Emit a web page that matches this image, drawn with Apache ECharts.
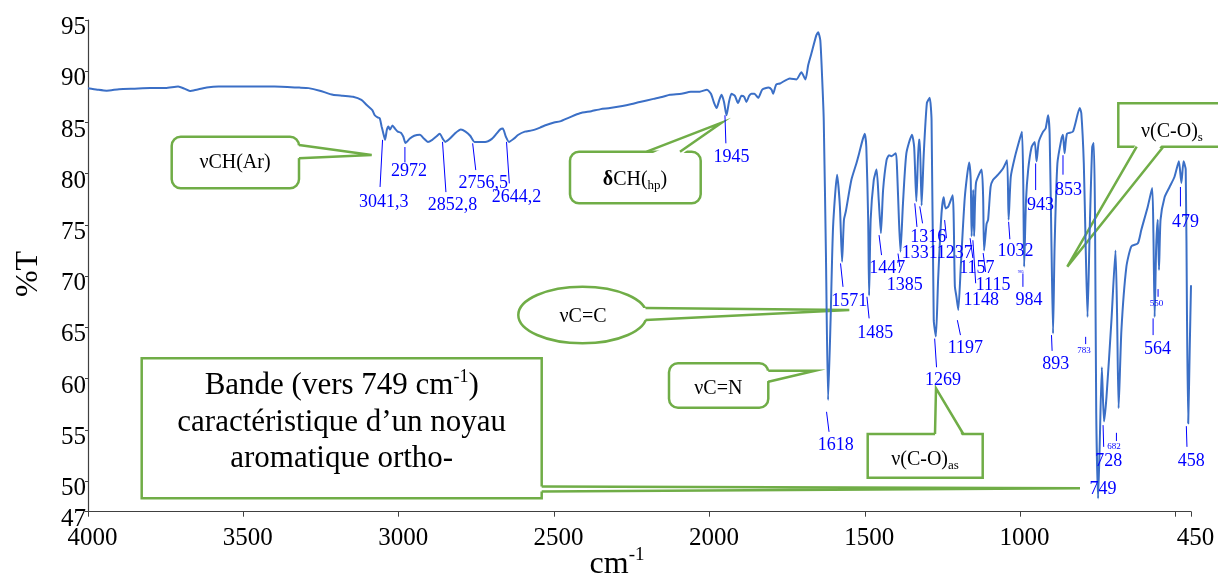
<!DOCTYPE html>
<html><head><meta charset="utf-8">
<script src="https://cdn.jsdelivr.net/npm/echarts@6/dist/echarts.min.js"></script>
<style>html,body{margin:0;padding:0;background:#fff}#c{width:1218px;height:574px}</style>
</head><body><div id="c"></div>
<script>
// ---- spectrum data (cm-1, %T) ----
const wavenumbers = [
4000,3970,3940,3900,3850,3800,3750,3710,3690,3672,3650,3618,3580,3500,3400,3320,3290,3254,3212,3180,
3147,3120,3103,3085,3077,3068,3061,3055,3050,3044,3038,3033,3028,3020,3012,3003,2993,2985,2978,2965,
2950,2932,2918,2906,2892,2880,2868,2858,2850,2836,2820,2800,2785,2770,2756,2740,2722,2700,2685,2674,
2665,2655,2645,2630,2615,2594,2575,2562,2545,2530,2500,2481,2450,2417,2380,2350,2320,2280,2250,2224,
2180,2150,2127,2090,2060,2031,2008,1995,1985,1977,1968,1961,1953,1945,1937,1929,1918,1908,1897,1888,
1881,1872,1865,1855,1843,1830,1810,1800,1795,1785,1773,1741,1720,1704,1691,1682,1672,1656,1650,1643,
1636,1632,1625,1618,1610,1602,1589,1580,1573,1567,1561,1543,1527,1518,1507,1500,1495,1489,1486,1481,
1471,1462,1455,1448,1441,1430,1422,1414,1400,1396,1390,1385,1377,1366,1348,1341,1334,1326,1323,1317,
1310,1300,1291,1285,1278,1271,1264,1253,1246,1240,1231,1217,1210,1205,1199,1191,1178,1164,1159,1156,
1151,1148,1142,1124,1119,1116,1108,1103,1095,1087,1071,1055,1042,1037,1030,1017,1001,994,990,987,
981,974,963,953,947,940,926,918,910,905,899,894,889,880,867,862,857,849,830,808,
803,795,789,783,776,768,763,759,755,749,744,737,730,722,706,693,688,683,674,658,
642,621,610,589,575,571,567,562,557,553,548,535,519,503,489,481,474,467,463,459,
454,450];
const transmittance = [
88.33,88.2,88.1,88.25,88.3,88.35,88.35,88.5,88.3,88.07,88.2,88.4,88.5,88.5,88.5,88.4,88.35,88.1,87.7,87.6,
87.5,87.2,86.7,86.2,85.7,85.5,85.4,84.6,84.0,83.3,84.3,84.6,84.3,84.7,84.4,84.1,84.0,83.6,83.0,83.4,
83.7,83.8,83.4,83.1,83.3,83.6,83.9,83.4,83.1,83.4,83.9,84.3,84.1,83.7,83.1,83.1,83.1,83.4,83.9,84.3,
84.4,83.6,83.1,83.4,83.8,84.1,84.2,84.3,84.5,84.7,85.0,85.1,85.5,85.9,86.1,86.3,86.4,86.6,86.8,87.0,
87.3,87.5,87.7,87.8,88.0,88.0,88.2,87.8,86.9,86.4,87.2,87.7,87.0,85.7,87.0,87.8,87.6,86.9,87.6,87.5,
87.0,87.6,87.8,87.8,87.4,88.2,88.4,88.2,87.8,88.7,88.8,89.3,89.2,89.9,89.2,90.6,91.7,93.5,93.8,93.0,
88.5,85.2,72.2,57.9,65.7,74.8,79.9,76.8,71.4,75.5,76.3,79.4,81.0,82.0,83.3,83.9,82.6,75.5,68.1,75.5,
79.4,80.4,77.4,74.2,78.4,81.3,81.8,81.7,82.0,80.4,75.5,72.4,77.1,82.0,83.8,82.6,77.3,83.3,83.3,76.9,
82.0,86.9,87.4,85.2,65.7,64.1,69.6,76.1,77.7,76.6,76.8,77.9,69.0,68.0,66.7,70.9,77.7,81.1,79.4,73.9,
78.4,73.9,79.1,80.4,77.7,72.5,75.1,75.5,78.7,79.4,79.9,80.5,81.3,75.5,79.7,81.6,83.4,84.1,79.4,70.9,
77.4,80.4,82.6,83.1,81.2,83.1,84.1,84.4,85.7,83.9,72.9,64.4,72.9,81.0,83.4,83.8,82.0,83.9,84.1,86.4,
85.9,81.0,72.9,66.0,74.5,82.6,83.0,76.1,56.6,48.3,53.3,61.1,55.8,58.2,65.7,72.5,66.4,57.1,64.7,70.9,
72.9,73.2,74.5,76.8,78.6,74.2,66.0,72.9,75.5,70.6,75.5,77.7,78.7,79.7,81.2,79.1,81.2,80.4,66.4,55.6,
63.1,69.1];

// ---- axis ticks ----
const xTickValues = [4000,3500,3000,2500,2000,1500,1000,500,450];
const xLabelValues = [4000,3500,3000,2500,2000,1500,1000,450];
const yTickValues = [47,50,55,60,65,70,75,80,85,90,95];

// ---- peak annotations (data coordinates) ----
const peakNames   = ['3041,3','2972','2852,8','2756,5','2644,2','1945','1618','1571','1485','1447','1385','1331','1316','1237','1269','1197','1157','1148','1115','1032','984','943','893','853','783','749','728','682','564','550','479','458','985'];
const peakTextWn  = [3048,2967,2827,2728,2621,1929,1593,1550,1466,1428,1371,1323,1296,1210,1248,1176,1139,1125,1087,1015,971,934,885.5,844,794,733,715,698,558,561,468,449,998];
const peakTextT   = [77.2,80.2,76.9,79.05,77.7,81.6,53.5,67.5,64.4,70.75,69.1,72.2,73.8,72.2,59.8,63.0,70.75,67.66,69.1,72.4,67.6,76.9,61.4,78.4,62.7,49.2,51.9,53.33,62.87,67.3,75.3,51.9,70.4];
const peakLineFrom = [[3052,83.3],[2980,82.6],[2859,83.1],[2762,82.96],[2653,83.1],[1950,85.7],[1623,56.75],[1578,71.24],[1493,67.98],[1454,74.0],[1393,72.2],[1339,77.1],[1323,76.8],[1243,75.47],[1275,63.9],[1202,65.7],[1161,73.7],[1152,73.5],[1119,72.25],[1037,75.3],[991,70.26],[950,81.0],[899,64.24],[862,81.8],[789,64.07],null,[733,55.45],[690,54.7],[572,65.87],[556,68.73],[484,78.7],[465,55.35],null];
const peakLineTo   = [[3060,78.7],[2980,81.1],[2848,78.2],[2752,80.35],[2644,79.05],[1947,82.96],[1615,54.8],[1570,68.95],[1486,65.87],[1446,72.05],[1387,70.9],[1332,74.8],[1314,75.15],[1237,73.7],[1269,61.1],[1192,64.24],[1152,71.76],[1143,69.3],[1111,70.4],[1033,73.6],[991,68.95],[950,78.4],[897,62.7],[862,79.9],[789,63.36],null,[731,53.33],[690,53.9],[572,64.24],[556,67.98],[484,76.8],[463,53.33],null];
const smallPeaks = ['783','682','550'];
const tinyPeaks = ['985'];

const SERIF = '"Liberation Serif","Times New Roman",serif';
const GREEN = '#70ad47';
const BLUE = '#0000ff';

const chart = echarts.init(document.getElementById('c'));
const seriesData = wavenumbers.map((w, i) => [w, transmittance[i]]);

chart.setOption({
  animation: false,
  backgroundColor: '#fff',
  grid: { left: 88, right: 27, top: 20, bottom: 62.3, containLabel: false },
  xAxis: {
    type: 'value', inverse: true, min: 450, max: 4000,
    axisLine: { show: true, lineStyle: { color: '#404040', width: 1.2 } },
    axisTick: { show: true, length: 5, inside: false, lineStyle: { color: '#404040' }, customValues: xTickValues },
    axisLabel: { customValues: xLabelValues, formatter: v => String(v), fontFamily: SERIF, fontSize: 25, color: '#000', margin: 14, padding: [0,0,0,9] },
    splitLine: { show: false }
  },
  yAxis: {
    type: 'value', min: 47, max: 95,
    axisLine: { show: true, lineStyle: { color: '#404040', width: 1.2 } },
    axisTick: { show: true, length: 3, lineStyle: { color: '#404040' }, customValues: yTickValues },
    axisLabel: { customValues: yTickValues, formatter: v => String(v), fontFamily: SERIF, fontSize: 25, color: '#000', margin: 2, verticalAlign: 'top', lineHeight: 15 },
    splitLine: { show: false }
  },
  series: [{
    type: 'line', data: seriesData, showSymbol: false, smooth: 0.2, z: 10,
    lineStyle: { color: '#3b6fc6', width: 2 }
  }]
});

function P(w, t) { return chart.convertToPixel({ xAxisIndex: 0, yAxisIndex: 0 }, [w, t]); }

const els = [];
function txt(x, y, text, size, extra) {
  els.push(Object.assign({
    type: 'text', z: 20,
    style: { x: x, y: y, text: text, fontSize: size, fontFamily: SERIF, fill: '#000',
             align: 'center', verticalAlign: 'middle', textAlign: 'center', textVerticalAlign: 'middle' }
  }, extra || {}));
}
function richTxt(x, y, text, rich) {
  els.push({
    type: 'text', z: 20,
    style: { x: x, y: y, text: text, rich: rich, fontFamily: SERIF, fill: '#000',
             align: 'center', verticalAlign: 'middle', textAlign: 'center', textVerticalAlign: 'middle' }
  });
}
function pointer(b1, tip, b2, inward) {
  const d = 4;
  els.push({ type: 'polygon', z: 2, shape: { points: [[b1[0]+inward[0]*d, b1[1]+inward[1]*d], tip, [b2[0]+inward[0]*d, b2[1]+inward[1]*d]] }, style: { fill: '#fff' } });
  els.push({ type: 'polyline', z: 3, shape: { points: [b1, tip, b2] }, style: { stroke: GREEN, lineWidth: 2.5, fill: null, lineJoin: 'miter' } });
}
function box(x1, y1, x2, y2, r) {
  els.push({ type: 'rect', z: 1, shape: { x: x1, y: y1, width: x2 - x1, height: y2 - y1, r: r }, style: { fill: '#fff', stroke: GREEN, lineWidth: 2.5 } });
}

// peak labels and leader lines
peakNames.forEach((name, i) => {
  const p = P(peakTextWn[i], peakTextT[i]);
  let size = 18;
  if (smallPeaks.indexOf(name) >= 0) size = 9;
  if (tinyPeaks.indexOf(name) >= 0) size = 4;
  els.push({ type: 'text', z: 20, style: { x: p[0], y: p[1], text: name, fontSize: size, fontFamily: SERIF, fill: BLUE,
    align: 'center', verticalAlign: 'middle', textAlign: 'center', textVerticalAlign: 'middle' } });
  if (peakLineFrom[i] && peakLineTo[i]) {
    const a = P(peakLineFrom[i][0], peakLineFrom[i][1]);
    const b = P(peakLineTo[i][0], peakLineTo[i][1]);
    els.push({ type: 'line', z: 20, shape: { x1: a[0], y1: a[1], x2: b[0], y2: b[1] }, style: { stroke: BLUE, lineWidth: 1 } });
  }
});

// callouts
box(171.7, 136.7, 299, 188.3, 9);
pointer([299, 145], [371.7, 155], [299, 158.3], [-1, 0]);
txt(235, 163, 'νCH(Ar)', 20);

box(570, 151.7, 700.7, 203.3, 9);
pointer([646.7, 151.7], [721.7, 122.7], [680, 151.7], [0, 1]);
richTxt(635, 180, '{b|δ}{n|CH(}{s|hp}{n|)}', {
  b: { fontSize: 20, fontWeight: 'bold', fontFamily: SERIF, fill: '#000', color: '#000', lineHeight: 24 },
  n: { fontSize: 20, fontFamily: SERIF, fill: '#000', color: '#000', lineHeight: 24 },
  s: { fontSize: 13, fontFamily: SERIF, fill: '#000', color: '#000', lineHeight: 13, verticalAlign: 'bottom' }
});

els.push({ type: 'ellipse', z: 1, shape: { cx: 582.5, cy: 315, rx: 64.2, ry: 28.3 }, style: { fill: '#fff', stroke: GREEN, lineWidth: 2.5 } });
pointer([645.5, 308], [849.3, 310], [645.5, 320], [-1, 0]);
txt(583, 317, 'νC=C', 20);

box(669, 363.3, 768.3, 407.7, 9);
pointer([768.3, 370.7], [815, 370.7], [768.3, 381.7], [-1, 0]);
txt(718.3, 388.3, 'νC=N', 20);

box(867.7, 434, 982.7, 477.7, 0);
pointer([935, 434], [936, 388.3], [963.3, 434], [0, 1]);
richTxt(925, 460, '{n|ν(C-O)}{s|as}', {
  n: { fontSize: 20, fontFamily: SERIF, fill: '#000', color: '#000', lineHeight: 24 },
  s: { fontSize: 13, fontFamily: SERIF, fill: '#000', color: '#000', lineHeight: 13, verticalAlign: 'bottom' }
});

box(1118.3, 103.3, 1222, 146.7, 0);
pointer([1136.7, 146.7], [1067.3, 266.7], [1163.3, 146.7], [0, -1]);
richTxt(1172, 131.7, '{n|ν(C-O)}{s|s}', {
  n: { fontSize: 20, fontFamily: SERIF, fill: '#000', color: '#000', lineHeight: 24 },
  s: { fontSize: 13, fontFamily: SERIF, fill: '#000', color: '#000', lineHeight: 13, verticalAlign: 'bottom' }
});

box(141.7, 358.3, 541.7, 498.3, 0);
pointer([541.7, 486.5], [1080, 488.3], [541.7, 491.5], [-1, 0]);
richTxt(341.7, 386, '{n|Bande (vers 749 cm}{p|-1}{n|)}', {
  n: { fontSize: 31, fontFamily: SERIF, fill: '#000', color: '#000', lineHeight: 36 },
  p: { fontSize: 18, fontFamily: SERIF, fill: '#000', color: '#000', lineHeight: 18, verticalAlign: 'top' }
});
txt(341.7, 422.5, 'caractéristique d’un noyau', 31);
txt(341.7, 459, 'aromatique ortho-', 31);

// axis titles
richTxt(617, 565, '{n|cm}{p|-1}', {
  n: { fontSize: 32, fontFamily: SERIF, fill: '#000', color: '#000', lineHeight: 38 },
  p: { fontSize: 19, fontFamily: SERIF, fill: '#000', color: '#000', lineHeight: 19, verticalAlign: 'top' }
});
els.push({ type: 'text', z: 20, x: 29, y: 274, rotation: Math.PI / 2,
  style: { x: 0, y: 0, text: '%T', fontSize: 32, fontFamily: SERIF, fill: '#000',
           align: 'center', verticalAlign: 'middle', textAlign: 'center', textVerticalAlign: 'middle' } });

chart.setOption({ graphic: { elements: els } });
</script>
</body></html>
